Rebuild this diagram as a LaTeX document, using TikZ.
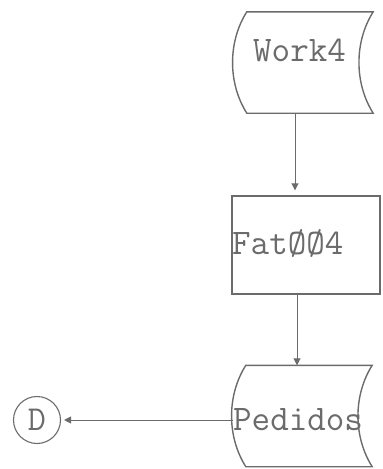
\documentclass[tikz,border=0pt]{standalone}
\usepackage{fontspec}
\usetikzlibrary{calc,arrows.meta}
\definecolor{ink}{gray}{0.42}
\tikzset{
  disk/.style={minimum width=126pt,minimum height=101pt,inner sep=0pt},
  lbl/.style={font=\ttfamily\fontsize{36}{36}\selectfont,text=ink,inner sep=0pt,anchor=west},
  flow/.style={draw=ink,line width=0.9pt,-{Triangle[length=7pt,width=7pt]}}
}
\newcommand{\diskline}[1]{\draw[ink,line width=1.4pt] (#1.north west) -- (#1.north east)
  .. controls +(-19,30) and +(-19,-30) .. (#1.south east) -- (#1.south west)
  .. controls +(-19,-30) and +(-19,30) .. cycle;}

\begin{document}
\begin{tikzpicture}[x=1pt,y=-1pt]
\useasboundingbox (0,0) rectangle (383,469);
% storage blocks
\node[disk] (work) at (310,62.5) {};
\diskline{work}
\node[lbl] (worklbl) at (253,50) {Work4};
\node[draw=ink,line width=1.4pt,minimum width=148pt,minimum height=98pt,inner sep=0pt] (fat) at (306,245) {};
\node[lbl] (fatlbl) at (232,243) {FatØØ4};
\node[disk] (ped) at (309,416) {};
\diskline{ped}
\node[lbl] (pedlbl) at (233,420) {Pedidos};
% connector
\node[draw=ink,circle,line width=1.1pt,minimum size=47pt,inner sep=0pt,
  font=\ttfamily\fontsize{35}{35}\selectfont,text=ink] (d) at (37,420) {D};
% flow lines
\draw[flow,shorten >=5pt] ($(work.south)+(-15,0)$) -- ($(fat.north)+(-11,0)$);
\draw[flow] ($(fat.south)+(-9,0)$) -- ($(ped.north)+(-12,0)$);
\draw[flow,shorten >=3pt] (pedlbl.west) -- (d.east);
\end{tikzpicture}
\end{document}
